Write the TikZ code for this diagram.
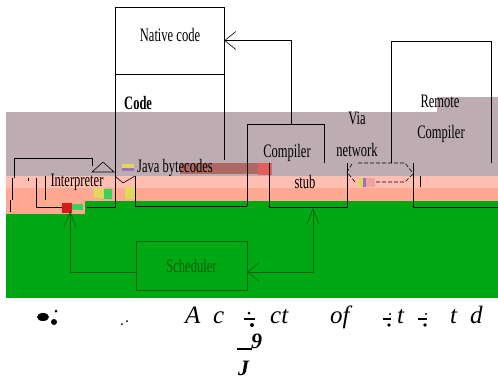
\documentclass[tikz,border=0pt]{standalone}
\usepackage{fontspec}
\setmainfont{Liberation Serif}
\usetikzlibrary{arrows.meta}
\definecolor{mauve}{RGB}{189,173,179}
\definecolor{pinka}{RGB}{255,190,178}
\definecolor{pinkb}{RGB}{255,168,146}
\definecolor{grass}{RGB}{0,168,20}
\definecolor{darkgr}{RGB}{0,95,0}
\definecolor{glyel}{RGB}{225,215,90}
\definecolor{glpur}{RGB}{160,110,200}
\definecolor{glred}{RGB}{215,25,25}
\definecolor{glgrn}{RGB}{60,210,90}
\definecolor{glbrn}{RGB}{175,105,100}
\newcommand{\nr}[1]{\scalebox{0.66}[1]{#1}}

\begin{document}
\begin{tikzpicture}[x=1pt,y=-1pt,
	lbl/.style={font=\fontsize{19}{21}\selectfont, inner sep=0pt},
	captxt/.style={font=\fontsize{25}{28}\selectfont\itshape, inner sep=0pt, anchor=base west},
	wire/.style={line width=0.6pt},
	gwire/.style={draw=darkgr, line width=0.6pt},
	tip/.style={-{Straight Barb[length=11pt,width=18pt]}},
	gtip/.style={{Straight Barb[length=11pt,width=18pt]}-{Straight Barb[length=15pt,width=12pt]}},
	dsh/.style={line width=0.6pt, dash pattern=on 4pt off 2pt}]
	\useasboundingbox (0,0) rectangle (498,381);

	% colour bands
	\fill[mauve] (6,112) rectangle (498,176);
	\fill[mauve] (437,97) rectangle (498,112);
	\fill[pinka] (6,176) rectangle (498,188);
	\fill[pinkb] (6,188) rectangle (498,201);
	\fill[grass] (6,201) rectangle (498,298);
	\fill[pinkb] (6,201) rectangle (85,214);

	% stray patches
	\fill[glbrn] (180,163) rectangle (258,174);
	\fill[glred!70] (258,163) rectangle (272,175);
	\fill[glyel] (122,164) rectangle (134,168);
	\fill[glpur] (122,168) rectangle (134,171);
	\fill[glyel] (125,187) rectangle (136,199);
	\fill[glyel] (94,188) rectangle (104,198);
	\fill[glgrn] (104,189) rectangle (112,199);
	\fill[glred] (62,203) rectangle (72,213);
	\fill[glgrn] (72,204) rectangle (83,210);
	\fill[glyel] (358,178) rectangle (363,187);
	\fill[glpur] (363,178) rectangle (366,187);
	\fill[glred!40] (366,178) rectangle (375,187);

	% boxes
	\node[wire, draw, minimum width=109pt, minimum height=67pt] (native) at (169.5,40.5) {};
	\node[lbl] (nctext) at (170,35) {\nr{Native code}};
	\draw[wire] (115,74) -- (115,207) -- (87,207);
	\draw[wire] (224,74) -- (224,160);
	\node[lbl, anchor=west, font=\fontsize{19}{21}\selectfont\bfseries] (code) at (124,103) {\nr{Code}};

	\draw[wire] (247,206) -- (247,124) -- (324,124) -- (324,163);
	\node[lbl] (cmp) at (287,153) {\nr{Compiler}};
	\draw[wire] (269,163) -- (269,207) -- (347,207) -- (347,163);
	\node[lbl] (stub) at (305,182) {\nr{stub}};

	\draw[wire] (135,176) -- (135,206) -- (247,206);
	\node[lbl, anchor=west] (jbc) at (137,168) {\nr{Java bytecodes}};

	\draw[wire] (14,178) -- (14,158) -- (92,158) -- (92,166);
	\draw[wire] (12,178) -- (12,200);
	\draw[wire] (36,178) -- (36,207) -- (62,207);
	\draw[wire] (45,176) -- (45,200);
	\draw[wire] (28,178) -- (28,181);
	\draw[wire] (10,200) -- (10,212);
	\node[lbl] (interp) at (77,182) {\nr{Interpreter}};
	\draw[wire] (92,172) -- (103,162) -- (114,172) -- cycle;
	\draw[wire] (115,176) -- (123,183) -- (135,176);

	\draw[wire] (391,163) -- (391,41) -- (491,41) -- (491,163);
	\draw[wire] (413,163) -- (413,207) -- (498,207);
	\node[lbl] (remote) at (440,101) {\nr{Remote}};
	\node[lbl] (rcmp) at (441,134) {\nr{Compiler}};

	\node[lbl] (via) at (357,118) {\nr{Via}};
	\node[lbl] (net) at (357,150) {\nr{network}};
	\draw[dsh] (352,164) -- (347,172) -- (355,182);
	\draw[dsh] (358,163) -- (405,163) -- (412,172);
	\draw[dsh] (376,182) -- (405,182) -- (413,174);
	\draw[wire] (420,176) -- (420,187);

	\node[gwire, minimum width=111pt, minimum height=49pt, text=darkgr, lbl] (sched) at (191.5,265.5) {\nr{Scheduler}};

	% connectors
	\coordinate (cmptop) at (291,124);
	\draw[wire, tip] (cmptop) |- (native.east);
	\coordinate (intbot) at (70,211);
	\draw[gwire, -{Straight Barb[length=15pt,width=12pt]}] ([yshift=-6.5pt]sched.west) -| (intbot);
	\coordinate (stubbot) at (313,208);
	\draw[gwire, gtip] ([yshift=-6.5pt]sched.east) -| (stubbot);

	% caption
	\fill (43,317) ellipse [x radius=6pt, y radius=4pt];
	\fill (54,322) circle (3pt);
	\fill (56,311) circle (1.5pt);
	\fill (122,324) circle (1pt);
	\fill (127,321) circle (1pt);
	\node[captxt] (ca) at (185,323) {A};
	\node[captxt] (cc) at (213,323) {c};
	\fill (244,318) rectangle (255,320);
	\fill (249,313) circle (1.5pt);
	\fill (252,325) circle (2pt);
	\node[captxt] (cct) at (270,323) {ct};
	\node[captxt] (cof) at (330,323) {of};
	\fill (383,318) rectangle (391,320);
	\fill (390,314) circle (1.2pt);
	\fill (389,325) circle (1.8pt);
	\node[captxt] (ct1) at (397,323) {t};
	\fill (418,318) rectangle (427,320);
	\fill (426,314) circle (1.2pt);
	\fill (425,325) circle (1.8pt);
	\node[captxt] (ct2) at (450,323) {t};
	\node[captxt] (cd) at (470,323) {d};
	\fill (237,348) rectangle (252,349.5);
	\node[captxt, font=\fontsize{22}{24}\selectfont\itshape\bfseries] (c9) at (251,348) {9};
	\node[captxt, font=\fontsize{22}{24}\selectfont\itshape\bfseries] (cj) at (238,375) {J};
\end{tikzpicture}
\end{document}
